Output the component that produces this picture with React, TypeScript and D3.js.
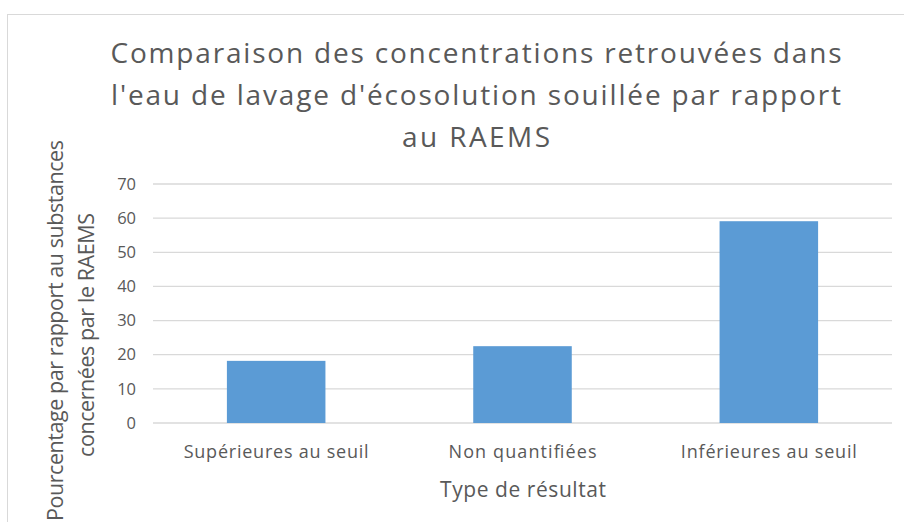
import React from "react";
import * as d3 from "d3";

const categories = ["Supérieures au seuil", "Non quantifiées", "Inférieures au seuil"];
const values = [18.2, 22.5, 59.1];
const yTicks = [0, 10, 20, 30, 40, 50, 60, 70];
const titleLines = [
  "Comparaison des concentrations retrouvées dans",
  "l'eau de lavage d'écosolution souillée par rapport",
  "au RAEMS",
];
const titleWidths = [731, 730, 148];
const categoryLabelWidths = [185, 148, 176];
const yTitleLines = ["Pourcentage par rapport au substances", "concernées par le RAEMS"];
const yTitleWidths = [381, 244];
const xTitle = "Type de résultat";

const W = 904;
const H = 522;
const plot = { left: 153, right: 892, top: 184, bottom: 423 };
const font = "'Open Sans', 'Noto Sans', sans-serif";
const textColor = "#595959";

export default function App() {
  const x = d3
    .scaleBand<string>()
    .domain(categories)
    .range([plot.left, plot.right])
    .paddingInner(0.6)
    .paddingOuter(0.3);
  const y = d3.scaleLinear().domain([0, 70]).range([plot.bottom, plot.top]);

  return (
    <svg
      width={W}
      height={H}
      style={{ position: "fixed", left: 0, top: 0, display: "block", background: "#fff" }}
    >
      <rect x={7.5} y={14.5} width={W + 10} height={H + 10} fill="#fff" stroke="#d9d9d9" strokeWidth={1} />
      {titleLines.map((t, i) => (
        <text
          key={i}
          x={476}
          y={63 + i * 42}
          textAnchor="middle"
          fontFamily={font}
          fontSize={28}
          fill={textColor}
          textLength={titleWidths[i]}
          lengthAdjust="spacing"
        >
          {t}
        </text>
      ))}
      {yTicks.map((t) => (
        <g key={t}>
          <line
            x1={plot.left}
            x2={plot.right}
            y1={y(t)}
            y2={y(t)}
            stroke="#d9d9d9"
            strokeWidth={1.3}
          />
          <text
            x={136}
            y={y(t)}
            dy="0.35em"
            textAnchor="end"
            fontFamily={font}
            fontSize={16.5}
            fill={textColor}
          >
            {t}
          </text>
        </g>
      ))}
      {categories.map((c, i) => (
        <rect
          key={c}
          x={x(c)}
          y={y(values[i])}
          width={x.bandwidth()}
          height={y(0) - y(values[i])}
          fill="#5b9bd5"
        />
      ))}
      {categories.map((c, i) => (
        <text
          key={c}
          x={(x(c) as number) + x.bandwidth() / 2}
          y={458}
          textAnchor="middle"
          fontFamily={font}
          fontSize={18}
          fill={textColor}
          textLength={categoryLabelWidths[i]}
          lengthAdjust="spacing"
        >
          {c}
        </text>
      ))}
      <text
        x={523}
        y={497}
        textAnchor="middle"
        fontFamily={font}
        fontSize={21}
        fill={textColor}
        textLength={166}
        lengthAdjust="spacing"
      >
        {xTitle}
      </text>
      {yTitleLines.map((t, i) => (
        <text
          key={i}
          transform={`translate(${63 + i * 31},${i === 0 ? 330.5 : 335}) rotate(-90)`}
          textAnchor="middle"
          fontFamily={font}
          fontSize={21.5}
          fill={textColor}
          textLength={yTitleWidths[i]}
          lengthAdjust="spacing"
        >
          {t}
        </text>
      ))}
    </svg>
  );
}
